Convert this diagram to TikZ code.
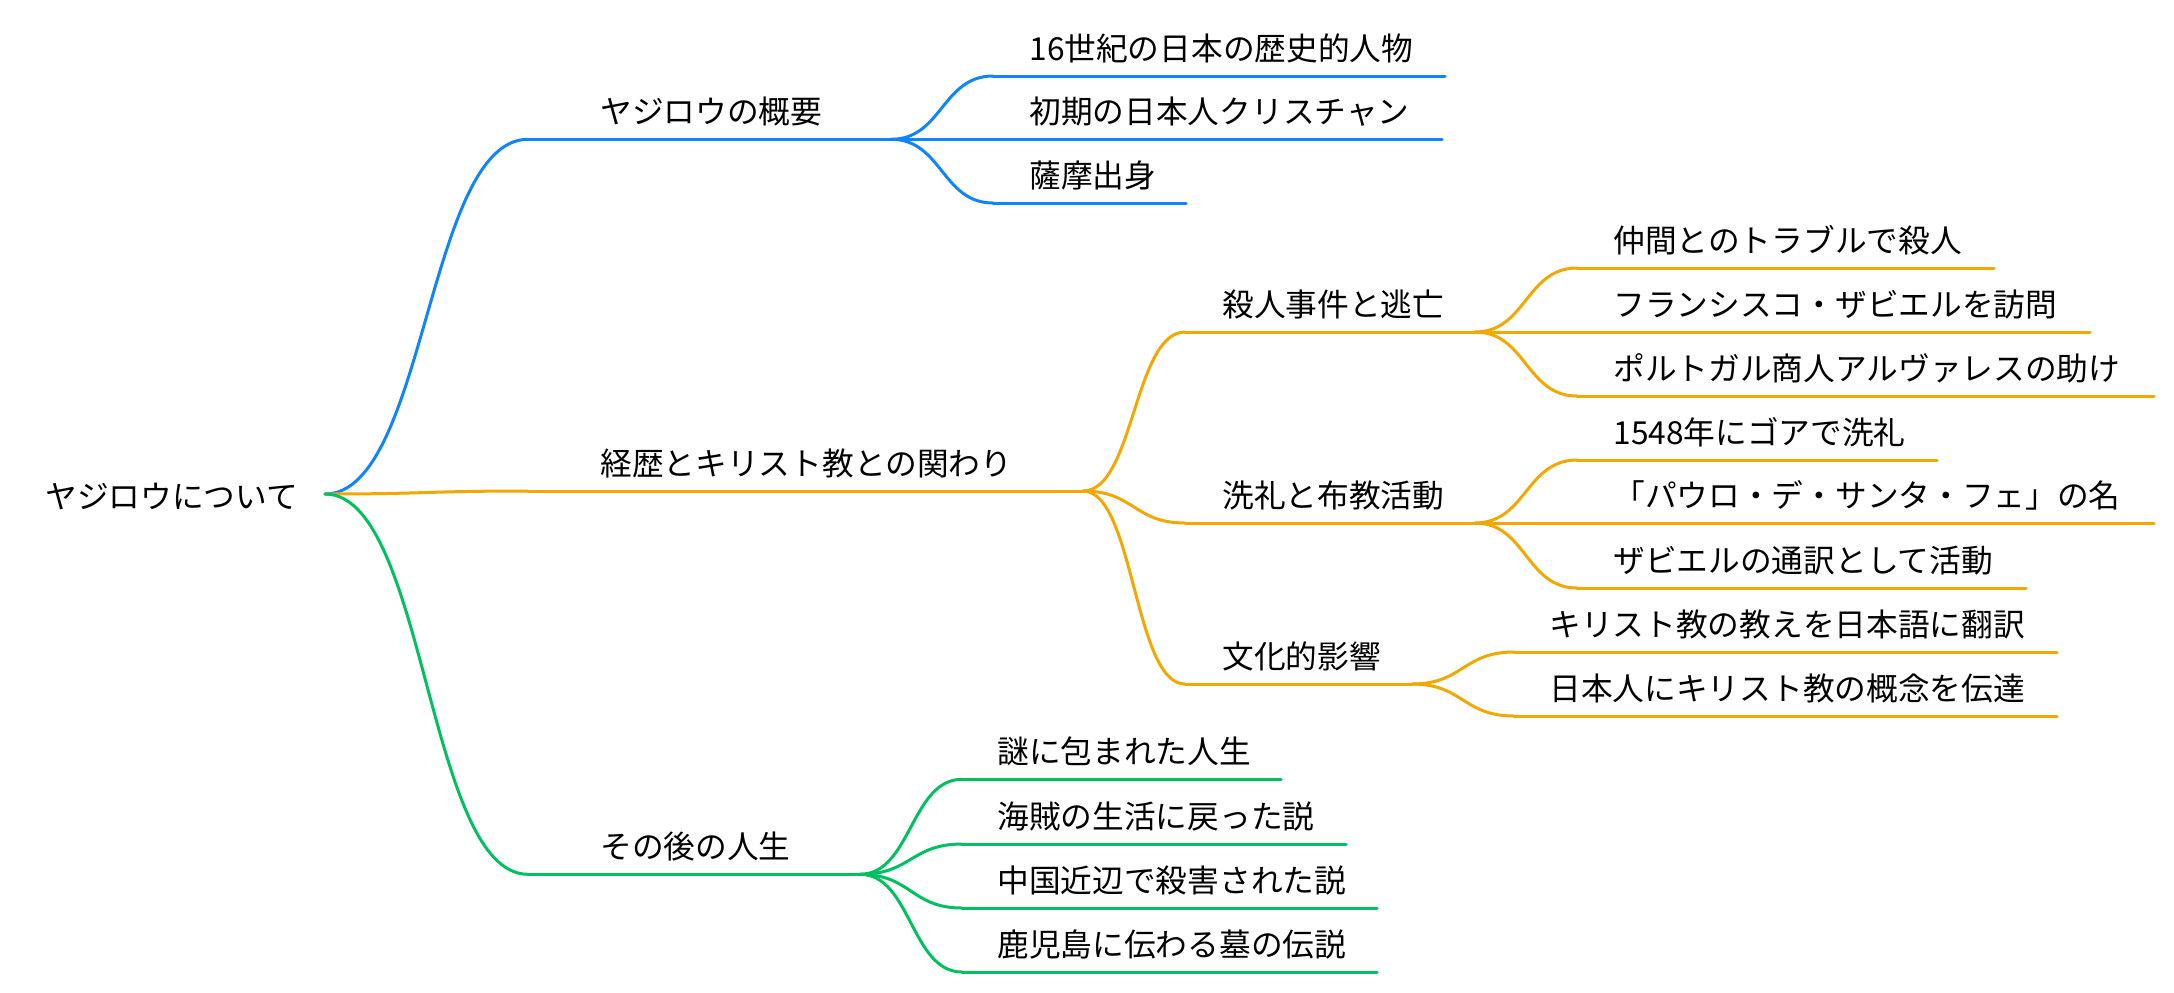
\documentclass[tikz,border=0pt]{standalone}
\usepackage{fontspec}
\setmainfont{Noto Sans CJK JP}
\usepackage{xcolor}
\usepackage{tikz}
\usetikzlibrary{calc}
\definecolor{overviewcolor}{RGB}{16,132,255}
\definecolor{careercolor}{RGB}{242,168,0}
\definecolor{latercolor}{RGB}{0,192,96}
\tikzset{
  topic/.style={
    anchor=base west,
    inner sep=0pt,
    text=black,
    font=\fontsize{15.85}{19}\selectfont
  },
  branch/.style={
    line width=1.5pt,
    line cap=round
  },
  ov line/.style={branch, draw=overviewcolor},
  car line/.style={branch, draw=careercolor},
  aft line/.style={branch, draw=latercolor}
}

\begin{document}
\begin{tikzpicture}[x=0.5pt,y=-0.5pt]
  \useasboundingbox (0,0) rectangle (2174,992);

  % Root
  \node[topic] (root) at (45,508) {ヤジロウについて};
  \coordinate (root-e) at (325,494);

  % First level
  \foreach \n/\y/\e/\txt in {ov/139.3/891/ヤジロウの概要,
      car/491/1083/経歴とキリスト教との関わり,
      aft/874.3/860/その後の人生} {
    \coordinate (\n-s) at (528,\y);
    \coordinate (\n-e) at (\e,\y);
    \node[topic] (\n) at (600,\y-16) {\txt};
    \draw[\n\space line] (\n-s) -- (\n-e);
    \draw[\n\space line] (root-e) .. controls +(101,0) and +(-101,0) .. (\n-s);
  }

  % Overview
  \foreach \n/\y/\e/\txt in {ov1/76/1445/16世紀の日本の歴史的人物,
      ov2/139.3/1442/初期の日本人クリスチャン,
      ov3/203/1186/薩摩出身} {
    \coordinate (\n-s) at (993,\y);
    \coordinate (\n-e) at (\e,\y);
    \node[topic] (\n) at (1029,\y-16) {\txt};
    \draw[ov line] (\n-s) -- (\n-e);
    \draw[ov line] (ov-e) .. controls +(51,0) and +(-51,0) .. (\n-s);
  }

  % Career and Christianity
  \foreach \n/\y/\e/\txt in {car1/332/1475/殺人事件と逃亡,
      car2/523/1475/洗礼と布教活動,
      car3/684/1412/文化的影響} {
    \coordinate (\n-s) at (1185,\y);
    \coordinate (\n-e) at (\e,\y);
    \node[topic] (\n) at (1222,\y-16) {\txt};
    \draw[car line] (\n-s) -- (\n-e);
    \draw[car line] (car-e) .. controls +(51,0) and +(-51,0) .. (\n-s);
  }

  % Third level under career
  \foreach \p/\n/\y/\e/\txt in {car1/car11/268/1994/仲間とのトラブルで殺人,
      car1/car12/332/2090/フランシスコ・ザビエルを訪問,
      car1/car13/396/2154/ポルトガル商人アルヴァレスの助け,
      car2/car21/460/1937/1548年にゴアで洗礼,
      car2/car22/523/2154/「パウロ・デ・サンタ・フェ」の名,
      car2/car23/588/2026/ザビエルの通訳として活動} {
    \coordinate (\n-s) at (1577,\y);
    \coordinate (\n-e) at (\e,\y);
    \node[topic] (\n) at (1613,\y-16) {\txt};
    \draw[car line] (\n-s) -- (\n-e);
    \draw[car line] (\p-e) .. controls +(51,0) and +(-51,0) .. (\n-s);
  }
  \foreach \n/\y/\txt in {car31/652/キリスト教の教えを日本語に翻訳,
      car32/716/日本人にキリスト教の概念を伝達} {
    \coordinate (\n-s) at (1514,\y);
    \coordinate (\n-e) at (2057,\y);
    \node[topic] (\n) at (1549,\y-16) {\txt};
    \draw[car line] (\n-s) -- (\n-e);
    \draw[car line] (car3-e) .. controls +(51,0) and +(-51,0) .. (\n-s);
  }

  % Later life
  \foreach \n/\y/\e/\txt in {aft1/779.3/1281/謎に包まれた人生,
      aft2/844/1346/海賊の生活に戻った説,
      aft3/908/1377/中国近辺で殺害された説,
      aft4/972/1377/鹿児島に伝わる墓の伝説} {
    \coordinate (\n-s) at (962,\y);
    \coordinate (\n-e) at (\e,\y);
    \node[topic] (\n) at (997,\y-16) {\txt};
    \draw[aft line] (\n-s) -- (\n-e);
    \draw[aft line] (aft-e) .. controls +(51,0) and +(-51,0) .. (\n-s);
  }
\end{tikzpicture}
\end{document}
